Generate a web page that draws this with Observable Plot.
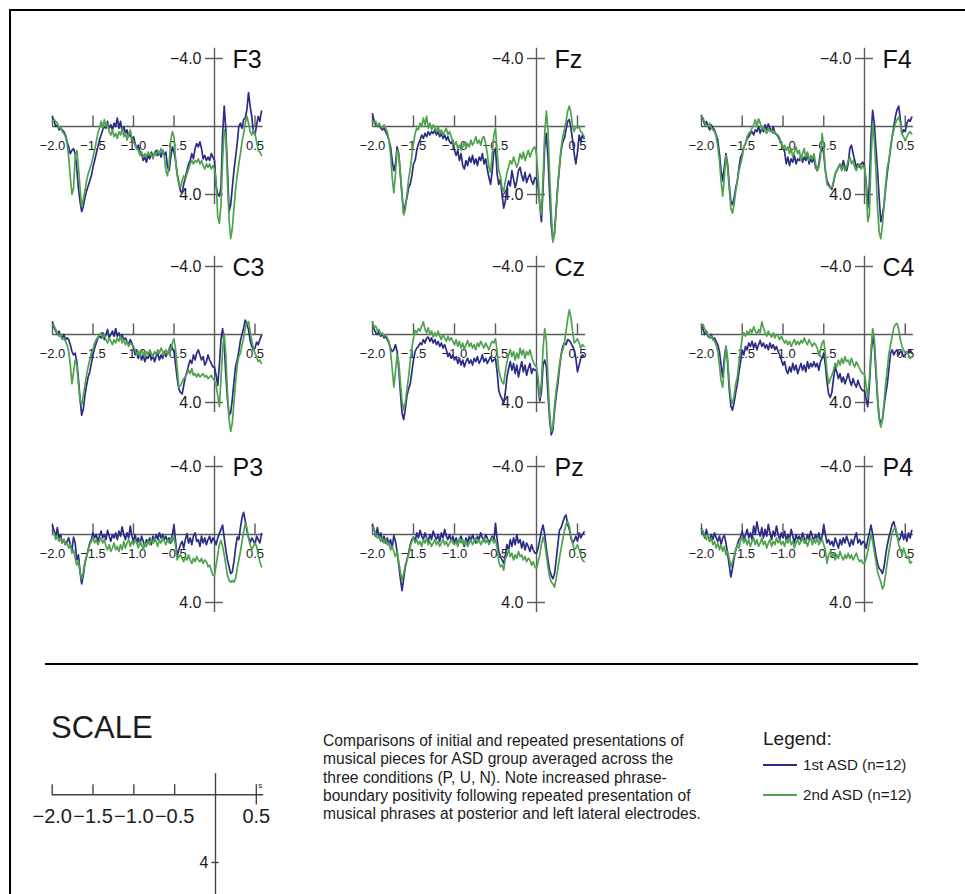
<!DOCTYPE html>
<html>
<head>
<meta charset="utf-8">
<script src="https://cdn.jsdelivr.net/npm/d3@7"></script>
<script src="https://cdn.jsdelivr.net/npm/@observablehq/plot@0.6"></script>
<style>
  html, body { margin: 0; padding: 0; background: #fff; overflow: hidden; }
  #page { position: relative; width: 965px; height: 894px; overflow: hidden; font-family: "Liberation Sans", Arial, Helvetica, sans-serif; color: #1c1c1c; }
  #page svg { position: absolute; left: 0; top: 0; }
  .frame { position: absolute; left: 9px; top: 9px; width: 1100px; height: 1000px; border-left: 2px solid #000; border-top: 2px solid #000; }
  .rule { position: absolute; left: 45px; top: 663px; width: 873px; height: 2px; background: #000; }
  .scale-title { position: absolute; left: 51px; top: 712px; font-size: 31px; line-height: 31px; }
  .caption { position: absolute; left: 323px; top: 732px; font-size: 15.6px; line-height: 18.3px; white-space: nowrap; }
  .legend-title { position: absolute; left: 763px; top: 729px; font-size: 19px; line-height: 19px; }
  .legend-item { position: absolute; left: 763px; font-size: 15.2px; line-height: 15px; white-space: nowrap; }
  .legend-item .swatch { display: inline-block; width: 34px; height: 1.6px; vertical-align: middle; margin-right: 6px; position: relative; top: -1px; }
</style>
</head>
<body>
<div id="page">
  <div class="frame"></div>
  <div class="rule"></div>
  <div class="scale-title">SCALE</div>
  <div class="caption" id="caption"></div>
  <div class="legend-title">Legend:</div>
  <div class="legend-item" id="leg1" style="top:757px"></div>
  <div class="legend-item" id="leg2" style="top:787px"></div>
</div>
<script>
// ERP grand averages, µV (positive plotted downward), sampled every 20 ms from -2.00 s to 0.58 s
const electrodes = ["F3", "Fz", "F4", "C3", "Cz", "C4", "P3", "Pz", "P4"];
const seriesNames = ["1st ASD (n=12)", "2nd ASD (n=12)"];
const timeTicks = [-2, -1.5, -1, -0.5, 0.5];
const timeTickLabels = ["−2.0", "−1.5", "−1.0", "−0.5", "0.5"];
const voltTicks = [-4, 4];
const voltTickLabels = ["−4.0", "4.0"];
const scaleVoltTicks = [4];
const scaleVoltLabels = ["4"];
const captionLines = [
  "Comparisons of initial and repeated presentations of",
  "musical pieces for ASD group averaged across the",
  "three conditions (P, U, N). Note increased phrase-",
  "boundary positivity following repeated presentation of",
  "musical phrases at posterior and left lateral electrodes."
];

const f3First = [
  -0.55,-0.3,0.0,-0.1,0.2,0.1,0.2,0.3,0.5,0.9,
  1.2,1.6,1.4,1.3,1.6,2.5,3.6,4.4,5.0,4.7,
  4.2,3.8,3.5,3.2,2.9,2.4,2.0,1.6,1.2,0.8,
  0.5,0.2,0.0,0.1,-0.3,0.1,-0.1,0.2,-0.2,0.0,
  -0.5,0.1,-0.3,0.3,0.0,0.4,0.2,0.6,0.4,0.8,
  0.6,1.0,1.3,1.1,1.5,1.6,2.0,1.8,2.1,1.7,
  1.9,1.5,1.8,1.6,1.4,1.7,1.5,1.8,1.4,1.7,
  1.5,2.4,2.6,1.8,1.2,1.5,2.0,2.8,3.3,3.8,
  3.9,3.4,3.0,2.6,2.2,2.0,1.6,1.9,1.3,1.0,
  1.2,0.9,1.3,1.9,1.7,2.0,1.8,2.0,1.6,1.8,
  2.0,3.5,4.0,4.1,3.6,0.5,-1.2,0.2,2.5,5.0,
  4.6,3.6,2.6,1.8,1.0,0.0,-0.2,0.1,-0.4,-0.5,
  -1.0,-2.0,-1.2,-0.6,0.3,0.5,-0.1,-0.6,-0.3,-0.9
];
const f3Second = [
  -0.3,-0.4,-0.3,-0.2,0.1,0.0,0.3,0.4,0.6,1.0,
  1.8,3.0,4.0,3.6,1.8,1.4,2.4,3.6,4.7,4.3,
  3.8,3.2,2.8,2.5,2.2,1.8,1.4,0.9,0.4,0.1,
  -0.3,0.1,-0.4,0.0,-0.2,0.3,0.5,0.2,0.6,0.4,
  0.7,0.3,0.5,0.1,0.6,0.4,0.8,0.5,0.2,0.7,
  0.9,1.1,1.3,1.4,1.7,1.5,1.8,1.6,1.8,1.5,
  1.7,1.6,1.9,1.5,1.7,1.4,1.6,1.3,1.5,1.7,
  2.6,2.9,2.2,0.8,0.3,0.6,2.0,2.9,3.4,3.6,
  3.2,2.9,3.1,2.8,2.5,2.2,2.0,2.2,2.0,2.1,
  1.9,2.2,2.0,2.3,2.5,2.2,2.4,2.2,2.5,2.3,
  2.5,3.2,5.3,5.7,4.6,2.0,0.2,0.6,3.2,5.5,
  6.6,6.0,4.8,3.7,2.9,2.2,1.6,0.9,0.4,-0.2,
  -0.6,-0.2,0.3,0.5,0.2,0.4,0.9,1.4,1.5,1.7
];
const fzFirst = [
  -0.75,-0.3,-0.1,0.0,-0.1,0.1,0.2,0.1,0.3,0.5,
  0.8,1.2,2.0,2.6,2.2,1.2,1.6,2.8,4.0,5.1,
  4.6,4.2,3.6,3.4,2.9,2.2,2.0,1.4,1.0,0.8,
  0.5,0.7,0.4,0.6,0.3,0.5,0.3,0.4,0.2,0.5,
  0.3,0.6,0.4,0.7,0.5,0.8,0.6,0.9,1.0,0.8,
  1.4,1.7,1.4,2.0,1.6,2.3,2.5,2.0,2.3,1.8,
  2.1,1.7,2.2,1.9,2.3,1.8,2.0,1.6,2.2,1.9,
  2.5,3.0,3.4,2.6,1.5,1.3,2.8,3.4,3.1,4.0,
  4.8,4.4,3.6,3.2,3.5,2.6,3.1,3.6,3.2,2.6,
  2.4,2.9,3.2,2.7,3.3,3.0,2.8,3.2,3.4,3.0,
  3.1,3.6,4.6,5.6,3.6,1.2,0.4,1.8,4.0,5.8,
  6.7,6.2,4.8,3.5,2.4,1.4,0.9,0.7,0.2,-0.3,
  -0.4,0.1,0.8,1.6,2.2,1.5,0.5,0.9,0.5,0.7
];
const fzSecond = [
  -0.35,-0.2,-0.3,0.0,-0.2,0.0,0.1,-0.1,0.1,0.3,
  0.8,1.6,3.0,3.9,2.8,1.4,1.6,2.8,4.1,5.2,
  4.9,4.0,3.1,2.5,1.7,1.0,0.4,0.1,0.2,-0.2,
  0.0,-0.5,-0.1,-0.6,0.1,-0.2,0.2,-0.1,0.1,0.3,
  0.0,0.4,0.2,0.5,0.3,0.1,0.5,0.3,0.6,0.9,
  1.1,0.9,1.3,1.1,1.4,1.2,0.9,1.3,1.0,1.2,
  0.8,1.1,0.9,0.6,1.0,0.8,1.1,0.7,0.6,1.0,
  1.6,2.4,2.7,1.6,0.5,0.1,1.5,2.6,2.9,3.6,
  3.8,3.2,2.7,2.4,2.0,2.2,1.8,2.1,2.4,2.1,
  1.6,1.9,1.5,2.0,1.7,1.4,1.8,1.5,1.3,1.2,
  1.6,3.0,4.6,5.2,3.0,0.4,-0.9,0.2,2.8,5.0,
  6.8,6.3,5.0,3.4,2.3,1.3,0.6,0.2,-0.3,-0.9,
  -1.2,-0.8,0.0,0.3,0.0,0.1,0.0,0.3,0.4,0.6
];
const f4First = [
  -0.65,-0.4,-0.1,-0.3,0.0,0.2,-0.1,0.1,0.2,0.5,
  0.8,1.6,2.6,3.2,2.4,1.6,2.2,3.4,4.4,4.6,
  4.2,3.6,3.2,2.4,1.8,1.6,1.2,1.0,0.7,0.6,
  0.4,0.3,0.5,0.2,0.3,0.0,0.4,0.1,0.3,-0.1,
  0.2,-0.15,0.1,0.3,0.0,0.4,0.45,0.6,0.8,1.0,
  1.2,1.5,2.2,1.8,2.3,1.9,2.1,1.7,2.2,1.9,
  2.0,1.7,2.1,1.8,2.0,1.6,2.2,1.9,2.1,1.8,
  2.4,2.6,2.2,1.5,1.2,1.6,2.6,3.2,3.4,3.6,
  3.7,3.3,2.8,2.6,2.4,2.2,2.5,2.0,2.4,2.6,
  2.2,1.3,1.1,1.6,2.0,2.4,2.2,2.4,2.2,2.1,
  2.4,3.2,4.8,3.4,0.6,-0.95,-0.2,1.2,2.6,4.2,
  5.6,5.2,4.6,3.6,2.7,2.0,1.3,0.6,0.0,-0.6,
  -1.0,-1.2,-0.4,0.45,0.2,0.3,-0.2,-0.4,-0.3,-0.55
];
const f4Second = [
  -0.6,-0.5,-0.2,-0.1,0.0,-0.2,0.1,0.2,0.3,0.6,
  1.2,2.0,3.2,4.1,3.0,1.7,2.4,3.6,4.8,5.1,
  4.6,3.8,3.2,2.6,2.2,1.8,1.2,1.0,0.6,0.4,
  0.3,0.1,-0.1,-0.4,0.0,-0.45,-0.2,0.2,0.0,0.3,
  0.4,0.1,0.3,0.2,0.4,0.3,0.45,0.5,0.7,1.0,
  1.3,1.1,1.4,1.2,1.6,1.3,1.8,1.5,1.2,1.6,
  1.4,2.0,1.6,1.3,1.8,1.5,2.0,1.7,1.9,1.6,
  2.2,2.6,2.4,1.8,0.4,1.2,2.6,3.4,3.5,3.6,
  3.6,3.2,2.8,2.6,2.4,2.2,2.6,2.3,2.6,2.4,
  2.0,1.8,2.2,2.0,2.4,2.6,2.3,2.2,2.5,2.3,
  2.4,3.4,5.6,5.2,2.0,-0.15,0.8,2.6,4.8,6.2,
  6.6,5.8,4.6,3.4,2.4,2.0,1.2,0.6,0.2,-0.2,
  -0.4,-0.55,-0.2,0.45,0.6,0.85,0.6,0.4,0.3,0.45
];
const c3First = [
  -0.75,-0.4,-0.2,0.0,-0.2,0.1,0.2,0.0,0.3,0.2,
  0.3,0.6,1.0,1.2,1.1,1.6,2.6,3.8,4.75,4.4,
  3.6,3.0,2.5,2.2,1.7,1.2,0.8,0.5,0.2,0.1,
  0.2,-0.1,0.3,0.0,-0.3,0.2,0.0,-0.2,0.1,-0.35,
  0.1,-0.1,0.2,0.0,0.35,0.2,0.4,0.6,0.3,0.5,
  0.8,1.2,0.9,1.4,1.1,1.5,1.2,1.6,1.3,1.4,
  1.1,1.5,1.2,1.6,1.3,1.1,1.5,1.2,1.4,1.0,
  1.3,1.1,0.9,0.6,0.8,1.0,1.8,2.6,3.2,3.4,
  3.5,3.0,2.5,2.2,1.8,1.5,1.7,1.2,1.5,1.1,
  0.9,1.2,1.5,1.3,1.8,1.6,1.2,1.5,1.7,1.9,
  1.9,2.4,3.0,1.8,0.3,-0.35,0.6,2.4,3.8,4.75,
  4.6,3.8,2.8,1.9,1.5,1.0,0.35,0.0,-0.4,-0.85,
  -0.6,-0.3,0.35,0.7,0.9,0.8,0.45,0.6,0.3,0.05
];
const c3Second = [
  -0.6,-0.5,-0.3,-0.1,0.1,0.0,0.3,0.2,0.4,0.6,
  1.0,1.8,2.9,2.2,1.5,1.8,2.9,3.8,4.15,3.6,
  3.0,2.4,1.9,1.5,1.1,0.9,0.5,0.3,0.15,0.0,
  -0.1,0.2,0.0,0.3,0.5,0.2,0.4,0.6,0.3,0.5,
  0.2,0.4,0.1,0.5,0.3,0.6,0.4,0.7,0.5,0.6,
  0.7,0.9,1.2,1.0,1.3,0.9,1.1,1.3,1.0,1.2,
  0.9,1.1,1.3,1.0,1.2,0.9,1.1,0.8,1.0,1.2,
  0.9,1.2,0.8,0.9,0.5,0.25,0.9,2.0,3.1,3.0,
  2.8,2.6,2.5,2.3,2.1,2.3,2.0,2.4,2.3,2.5,
  2.3,2.5,2.4,2.3,2.5,2.4,2.6,2.5,2.4,2.6,
  2.7,3.0,3.6,4.25,2.6,0.9,-0.05,1.2,3.4,5.0,
  5.7,5.2,4.0,2.8,1.8,1.3,1.1,0.6,0.2,-0.4,
  -0.7,-0.75,-0.2,0.35,0.8,1.1,1.3,1.6,1.5,1.7
];
const czFirst = [
  -0.75,-0.3,-0.1,0.0,-0.2,0.1,0.0,0.2,0.1,0.3,
  0.5,0.8,1.0,0.9,0.6,1.0,2.0,3.4,4.6,5.0,
  4.4,3.6,3.2,2.9,2.2,1.5,1.0,0.8,0.7,0.5,
  0.6,0.3,0.5,0.2,0.15,0.4,0.2,0.5,0.3,0.6,
  0.4,0.7,0.5,0.8,0.6,0.9,1.3,1.1,1.4,1.2,
  1.5,1.3,1.7,1.4,1.8,1.5,1.9,1.6,1.4,1.7,
  1.5,1.8,1.4,1.6,1.3,1.7,1.5,1.2,1.6,1.4,
  1.7,1.5,1.3,1.6,1.5,1.4,2.2,3.3,3.6,3.8,
  4.05,3.4,2.5,2.0,1.6,2.1,1.7,2.3,1.8,2.5,
  2.0,1.6,2.2,1.8,2.4,2.0,1.7,2.3,2.0,2.1,
  2.1,3.0,3.9,3.4,1.8,1.5,1.9,3.5,5.0,5.9,
  5.6,4.5,3.6,2.9,2.0,1.2,0.7,0.5,0.6,0.3,
  0.35,0.5,0.7,0.9,1.4,2.2,1.8,1.4,1.2,1.3
];
const czSecond = [
  -0.75,-0.4,-0.5,-0.2,-0.3,0.0,-0.1,0.1,0.0,0.2,
  0.4,1.0,2.0,3.1,2.2,1.2,1.6,2.8,3.9,4.45,
  4.0,3.2,2.5,1.6,0.8,0.2,-0.25,-0.1,-0.35,-0.2,
  -0.5,-0.75,-0.3,-0.1,-0.4,0.0,-0.2,0.15,-0.1,0.1,
  -0.2,0.1,0.3,0.0,0.2,0.4,0.1,0.35,0.2,0.4,
  0.6,0.3,0.7,0.4,0.8,0.5,0.9,0.6,0.35,0.7,
  0.5,0.8,0.6,0.9,0.5,0.7,0.4,0.6,0.8,0.5,
  0.7,0.9,0.6,0.4,0.5,0.25,1.0,2.1,2.5,2.8,
  2.9,2.2,1.6,1.2,0.9,1.3,1.0,1.5,1.1,1.4,
  0.8,1.2,0.9,1.4,1.0,1.2,0.9,1.3,1.6,1.8,
  1.9,2.6,3.7,2.8,0.8,-0.35,0.4,2.6,4.6,5.7,
  5.4,4.2,3.3,2.6,1.8,1.2,0.9,0.5,-0.2,-0.9,
  -1.45,-1.0,-0.2,0.5,0.4,0.25,0.5,0.8,0.6,0.7
];
const c4First = [
  -0.55,-0.3,0.0,-0.2,0.1,0.2,0.0,0.3,0.2,0.4,
  0.6,1.0,1.8,2.5,1.4,0.7,1.6,3.2,4.2,4.45,
  4.0,3.4,2.9,2.2,1.6,0.9,1.2,0.7,0.9,0.5,
  0.7,0.4,0.8,0.5,0.9,0.6,0.35,0.7,0.5,0.8,
  0.6,0.9,0.5,0.8,0.6,0.9,0.7,1.0,1.2,1.5,
  1.8,1.6,2.1,2.3,1.9,2.2,1.7,2.1,1.8,2.3,
  2.0,1.7,2.1,1.8,2.2,1.6,2.0,1.7,1.9,1.6,
  1.9,1.7,2.1,1.6,1.4,1.1,1.8,2.8,3.5,3.7,
  3.4,2.6,1.9,2.2,2.6,2.3,2.8,2.5,2.9,2.6,
  2.3,2.7,3.0,2.6,2.9,3.1,2.7,3.0,3.2,3.3,
  3.3,3.8,4.25,3.0,1.2,0.15,0.6,2.2,3.8,4.9,
  5.25,5.0,4.2,3.5,2.9,2.0,1.1,0.9,1.2,1.0,
  0.9,1.2,1.0,1.1,1.3,1.2,1.0,1.1,0.9,1.1
];
const c4Second = [
  -0.5,-0.6,-0.3,-0.1,0.0,0.2,0.1,0.3,0.4,0.6,
  1.0,1.8,2.7,3.1,1.8,0.7,1.4,2.8,3.8,4.05,
  3.6,2.9,2.5,1.6,0.9,0.15,-0.1,0.1,-0.2,0.0,
  -0.3,-0.1,-0.45,-0.2,0.0,-0.3,-0.1,-0.75,-0.4,-0.1,
  0.1,-0.2,0.0,0.15,-0.1,0.2,0.0,0.1,0.3,0.1,
  0.3,0.5,0.35,0.6,0.4,0.7,0.5,0.3,0.6,0.4,
  0.6,0.35,0.5,0.2,0.45,0.6,0.3,0.5,0.7,0.5,
  0.6,0.8,1.2,0.9,0.5,0.35,1.2,2.2,2.9,2.6,
  2.4,2.1,1.7,1.9,1.5,1.8,1.4,1.7,1.3,1.6,
  1.5,1.8,1.4,1.7,1.9,1.6,1.8,2.0,2.2,2.3,
  2.3,3.0,3.7,2.6,0.9,-0.35,0.2,1.8,3.6,5.0,
  5.45,5.0,4.0,2.9,2.0,1.1,0.6,0.1,-0.4,-0.6,
  -0.65,-0.3,0.3,0.7,0.9,1.1,1.0,1.2,1.4,1.3
];
const p3First = [
  -0.55,-0.2,0.1,-0.4,0.2,0.0,0.5,0.3,0.6,0.4,
  0.2,0.6,0.9,0.15,0.5,1.5,1.2,2.2,2.9,2.4,
  1.7,1.3,0.9,0.5,0.3,-0.1,0.2,0.0,0.4,0.1,
  -0.2,0.2,0.0,0.3,-0.25,0.1,0.4,0.0,0.2,-0.1,
  0.3,-0.2,0.1,-0.45,0.0,0.3,-0.1,0.2,-0.5,0.1,
  0.4,0.0,0.5,0.2,0.6,0.1,0.4,0.7,0.3,0.5,
  0.2,0.6,0.1,0.4,0.0,0.3,-0.1,0.2,0.0,0.3,
  0.1,0.4,0.2,0.5,0.0,-0.55,0.4,1.3,0.9,0.6,
  0.4,0.8,0.3,-0.05,0.5,0.2,0.6,0.1,-0.1,0.4,
  0.3,0.7,0.1,0.5,0.2,0.6,0.3,0.1,0.5,0.2,
  0.35,0.6,0.2,-0.05,-0.3,-0.55,0.2,0.9,1.5,1.9,
  2.3,2.2,1.6,0.8,0.15,0.3,-0.4,-1.0,-1.3,-0.8,
  -0.2,0.15,0.5,0.2,0.35,0.6,0.1,0.3,0.5,-0.05
];
const p3Second = [
  0.0,-0.1,0.3,0.1,0.4,0.2,0.5,0.3,0.6,0.5,
  0.8,0.6,1.1,0.9,1.4,1.8,1.6,2.2,2.6,2.2,
  1.6,1.3,0.9,0.6,0.4,0.2,0.5,0.3,0.6,0.4,
  0.2,0.5,0.3,0.7,0.9,0.6,1.0,0.8,0.5,0.9,
  0.7,1.0,0.6,0.9,0.4,0.8,0.5,0.3,0.7,0.4,
  0.6,0.3,0.5,0.8,0.4,0.6,0.9,0.5,0.7,0.4,
  0.6,0.3,0.5,0.2,0.4,0.7,0.3,0.5,0.2,0.4,
  0.6,0.3,0.5,0.2,0.4,0.15,0.7,1.5,1.3,1.2,
  1.4,1.6,1.3,1.5,1.2,1.5,1.7,1.4,1.6,1.3,
  1.5,1.6,1.4,1.7,1.5,1.6,1.9,1.8,2.1,2.4,
  2.4,1.8,1.2,0.6,0.35,0.7,1.2,1.8,2.4,2.7,
  2.8,2.7,2.8,2.6,2.0,1.5,1.0,0.4,-0.2,-0.65,
  -0.4,0.2,0.6,0.9,0.7,0.5,0.7,1.2,1.6,1.9
];
const pzFirst = [
  -0.55,-0.3,0.1,-0.4,0.2,-0.1,0.4,0.1,0.5,0.2,
  0.6,0.3,0.8,0.05,0.4,1.0,1.8,2.6,3.3,2.6,
  1.9,1.5,1.1,0.6,0.3,0.15,0.4,-0.1,0.2,-0.25,
  0.1,0.3,-0.1,0.2,0.4,0.0,0.3,-0.2,0.1,0.3,
  0.0,0.4,-0.1,0.2,-0.3,0.1,0.3,0.0,0.4,0.1,
  0.5,0.2,0.6,0.3,0.1,0.4,0.7,0.2,0.5,0.1,
  0.4,0.0,0.3,0.5,0.1,0.3,-0.1,0.2,0.4,0.0,
  0.2,0.5,0.3,0.1,0.4,-0.65,0.3,1.0,1.3,1.5,
  1.7,1.2,0.6,0.9,0.3,0.7,0.2,0.6,0.0,0.5,
  0.3,0.8,0.4,0.9,0.5,0.7,1.0,0.6,0.9,1.1,
  1.1,0.8,0.3,-0.2,-0.55,0.0,0.8,1.5,2.1,2.4,
  2.6,2.3,1.5,0.6,-0.25,-0.4,-0.7,-1.0,-1.15,-0.6,
  -0.3,0.2,0.5,0.35,0.1,0.4,-0.1,0.2,0.0,-0.15
];
const pzSecond = [
  -0.45,-0.3,0.0,0.2,0.1,0.4,0.2,0.5,0.3,0.6,
  0.5,0.9,0.7,1.0,1.3,1.0,1.6,2.2,2.7,2.3,
  1.8,1.5,1.2,0.7,0.4,0.15,0.5,0.3,0.6,0.4,
  0.7,0.3,0.5,0.2,0.6,0.4,0.7,0.5,0.3,0.6,
  0.4,0.7,0.5,0.3,0.6,0.4,0.7,0.5,0.3,0.5,
  0.6,0.4,0.7,0.2,0.5,0.3,0.6,0.4,0.7,0.5,
  0.3,0.6,0.4,0.2,0.5,0.3,0.6,0.4,0.2,0.5,
  0.3,0.6,0.4,0.2,0.5,0.3,0.8,1.6,1.9,1.8,
  2.1,1.4,1.2,0.9,1.3,1.1,1.5,1.2,1.4,1.0,
  1.3,1.2,1.5,1.3,1.6,1.4,1.5,1.8,1.6,1.9,
  2.0,1.6,1.2,0.6,0.15,0.5,1.2,1.9,2.5,2.8,
  2.9,3.1,2.6,2.0,1.4,0.8,0.3,-0.2,-0.6,-0.75,
  -0.5,0.1,0.5,0.9,0.8,0.6,0.9,1.2,1.5,1.6
];
const p4First = [
  -0.35,-0.1,0.2,-0.3,0.1,0.4,0.0,0.3,-0.1,0.2,
  0.4,0.1,0.6,0.2,0.05,0.5,1.1,1.8,2.5,2.0,
  1.4,0.9,0.6,0.3,0.15,-0.2,0.3,0.0,-0.3,0.2,
  -0.1,0.3,-0.5,0.0,-0.75,-0.2,0.1,-0.4,0.2,-0.3,
  0.1,-0.6,-0.1,0.3,-0.2,0.1,-0.5,0.0,0.3,-0.1,
  0.2,-0.2,0.4,0.0,0.3,-0.3,0.1,0.5,0.0,0.3,
  0.1,0.4,-0.1,0.2,0.5,0.0,0.3,-0.2,0.1,0.4,
  0.0,0.3,-0.1,0.4,0.1,-0.55,0.0,0.5,0.3,0.6,
  0.4,0.7,0.2,0.5,0.8,0.3,0.6,0.2,0.5,0.1,
  0.4,0.7,0.3,0.6,0.2,-0.1,0.5,0.3,0.6,0.4,
  0.5,0.8,0.3,-0.1,-0.55,0.0,0.6,1.2,1.7,2.0,
  2.1,2.3,1.9,1.2,0.6,0.15,-0.2,-0.6,-0.75,-0.3,
  0.1,0.35,0.2,-0.2,0.3,0.0,0.4,-0.1,0.2,-0.25
];
const p4Second = [
  -0.3,-0.2,0.1,0.3,0.0,0.4,0.2,0.6,0.4,0.8,
  0.5,0.9,0.6,1.0,0.7,1.2,1.0,1.4,1.9,1.6,
  1.3,0.9,0.6,0.8,0.4,0.15,0.5,0.2,0.6,0.3,
  0.7,0.4,0.2,0.6,0.3,0.7,0.5,0.2,0.6,0.4,
  0.8,0.5,0.3,0.7,0.4,0.6,0.2,0.5,0.3,0.6,
  0.4,0.7,0.3,0.5,0.2,0.6,0.4,0.8,0.5,0.3,
  0.6,0.4,0.2,0.5,0.3,0.7,0.4,0.2,0.6,0.3,
  0.5,0.2,0.6,0.4,0.3,0.6,0.9,1.7,1.2,1.0,
  1.3,1.1,1.5,1.2,1.4,1.0,1.3,1.5,1.2,1.4,
  1.1,1.4,1.2,1.5,1.3,1.1,1.4,1.6,1.5,1.7,
  1.7,1.4,1.0,0.5,-0.05,0.4,1.0,1.6,2.2,2.5,
  2.8,3.2,3.0,2.3,1.6,1.0,0.4,-0.1,-0.3,-0.45,
  0.0,0.6,0.9,1.2,0.8,1.1,1.4,1.3,1.7,1.6
];

const firstASD = [f3First, fzFirst, f4First, c3First, czFirst, c4First, p3First, pzFirst, p4First];
const secondASD = [f3Second, fzSecond, f4Second, c3Second, czSecond, c4Second, p3Second, pzSecond, p4Second];

// sample clock: 20 ms steps starting at -2.00 s
const times = d3.range(f3First.length).map(i => Math.round((-2 + i * 0.02) * 100) / 100);

// ---- layout and styling ----
const W = 965, H = 894;
const FONT = "Liberation Sans, Arial, Helvetica, sans-serif";
const BLUE = "#2c2c86";
const GREEN = "#4fa24e";
const AXIS = "#5a5a5a";
const INK = "#1c1c1c";
const colMinus2 = [52, 372, 701];   // pixel position of -2.0 s per column
const colZero = [214, 536, 864];    // pixel position of 0 s per column
const rowZero = [126, 334, 534];    // pixel position of 0 µV per row
const rowPlus4 = [194, 402, 602];   // pixel position of +4 µV per row

const page = document.getElementById("page");

function panel(i) {
  const col = i % 3, row = Math.floor(i / 3);
  const rows = times.map((t, k) => ({t, first: firstASD[i][k], second: secondASD[i][k]}));
  return Plot.plot({
    width: W, height: H, margin: 0,
    x: {domain: [-2, 0], range: [colMinus2[col], colZero[col]], axis: null},
    y: {domain: [0, 4], range: [rowZero[row], rowPlus4[row]], axis: null},
    style: {background: "transparent", overflow: "visible", fontFamily: FONT, color: INK},
    marks: [
      Plot.ruleY([0], {x1: -2, x2: 0.6, stroke: AXIS, strokeWidth: 1.4}),
      Plot.ruleX([0], {y1: -4.6, y2: 4.6, stroke: AXIS, strokeWidth: 1.4}),
      Plot.ruleX(timeTicks, {x: d => d, y1: 0, y2: -0.62, stroke: AXIS, strokeWidth: 1.4}),
      Plot.ruleY(voltTicks, {y: d => d, x1: -0.11, x2: 0.11, stroke: AXIS, strokeWidth: 1.4}),
      Plot.text(timeTicks, {x: d => d, y: 0, text: (d, j) => timeTickLabels[j], dy: 19.5, fontSize: 13, fill: INK}),
      Plot.text(voltTicks, {x: 0, y: d => d, text: (d, j) => voltTickLabels[j], textAnchor: "end", dx: -13, fontSize: 16, fill: INK}),
      Plot.text([electrodes[i]], {x: 0, y: -4, text: d => d, textAnchor: "start", dx: 18, dy: 1, fontSize: 25, fill: "#111"}),
      Plot.line(rows, {x: "t", y: "first", stroke: BLUE, strokeWidth: 1.7}),
      Plot.line(rows, {x: "t", y: "second", stroke: GREEN, strokeWidth: 1.7})
    ]
  });
}

electrodes.forEach((_, i) => page.appendChild(panel(i)));

// scale reference axes
const scaleTimeTicks = [-2, -1.5, -1, -0.5];
page.appendChild(Plot.plot({
  width: W, height: H, margin: 0,
  x: {domain: [-2, 0], range: [51.7, 215], axis: null},
  y: {domain: [0, 4], range: [794.3, 862], axis: null},
  style: {background: "transparent", overflow: "visible", fontFamily: FONT, color: INK},
  marks: [
    Plot.ruleY([0], {x1: -2, x2: 0.59, stroke: "#444", strokeWidth: 1.4}),
    Plot.ruleX([0], {y1: -1.25, y2: 6, stroke: "#444", strokeWidth: 1.4}),
    Plot.ruleX(scaleTimeTicks, {x: d => d, y1: 0, y2: -0.6, stroke: "#444", strokeWidth: 1.4}),
    Plot.ruleX([0.5], {x: d => d, y1: 0.6, y2: -0.6, stroke: "#444", strokeWidth: 1.4}),
    Plot.ruleY(scaleVoltTicks, {y: d => d, x1: -0.045, x2: 0.045, stroke: "#444", strokeWidth: 1.4}),
    Plot.text(timeTicks, {x: d => d, y: 0, text: (d, j) => timeTickLabels[j], dy: 22, fontSize: 20, fill: INK}),
    Plot.text(scaleVoltTicks, {x: 0, y: d => d, text: (d, j) => scaleVoltLabels[j], textAnchor: "end", dx: -7, fontSize: 16, fill: INK}),
    Plot.text(["s"], {x: 0.5, y: -0.55, text: d => d, textAnchor: "start", dx: 2, fontSize: 8, fill: INK})
  ]
}));

document.getElementById("caption").innerHTML = captionLines.join("<br>");
document.getElementById("leg1").innerHTML = `<span class="swatch" style="background:${BLUE}"></span>${seriesNames[0]}`;
document.getElementById("leg2").innerHTML = `<span class="swatch" style="background:${GREEN}"></span>${seriesNames[1]}`;
</script>
</body>
</html>
